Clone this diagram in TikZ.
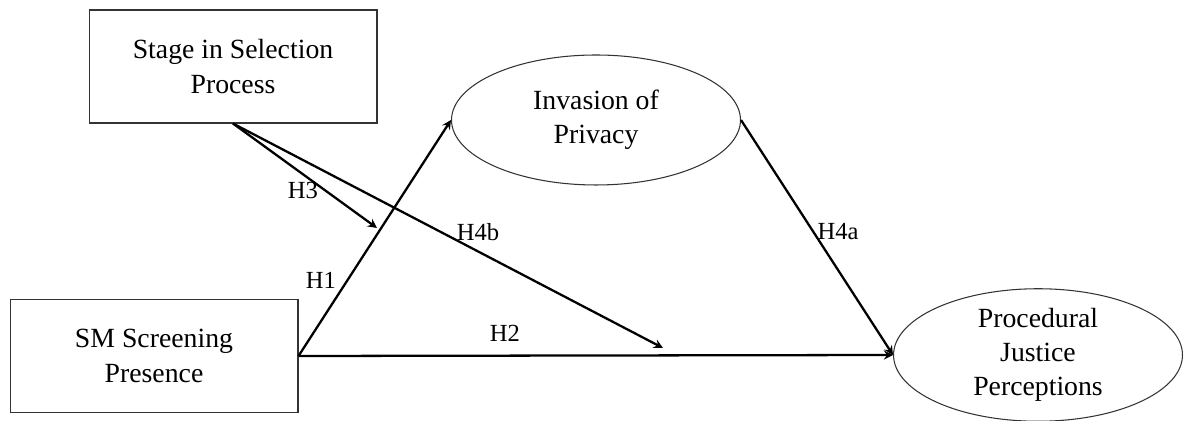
\documentclass[tikz,border=0pt]{standalone}
\usepackage{fontspec}
\setmainfont{Liberation Serif}
\usetikzlibrary{shapes.geometric}
\tikzset{
	varbox/.style={draw=black!80,line width=0.6pt,rectangle,minimum width=5.76cm,minimum height=2.26cm,align=center,inner sep=0pt,font=\fontsize{15.8}{19.5}\selectfont},
	varoval/.style={draw=black!80,line width=0.6pt,ellipse,minimum width=5.78cm,minimum height=2.6cm,align=center,inner sep=0pt,font=\fontsize{15.8}{19.5}\selectfont},
	hyparrow/.style={->,line width=1.3pt},
	hyplabel/.style={inner sep=0pt,font=\fontsize{14}{16}\selectfont}
}
\begin{document}
\begin{tikzpicture}[x=0.02cm,y=-0.02cm,>=stealth]
			\useasboundingbox (0,0) rectangle (1192,421);
			\node[varbox] (stage) at (233,66.5) {Stage in Selection\\Process};
			\node[varbox] (sm) at (154,356) {SM Screening\\Presence};
			\node[varoval] (inv) at (596,120) {Invasion of\\Privacy};
			\node[varoval] (pj) at (1038,355) {Procedural\\Justice\\Perceptions};
			\coordinate (h3end) at (377,228);
			\coordinate (h4bend) at (663,348);
			\draw[hyparrow] (sm.east) -- (inv.west);
			\draw[hyparrow] (sm.east) -- (pj.west);
			\draw[hyparrow] (inv.east) -- (pj.west);
			\draw[hyparrow] (stage.south) -- (h3end);
			\draw[hyparrow] (stage.south) -- (h4bend);
			\node[hyplabel] (h1) at (321,280) {H1};
			\node[hyplabel] (h2) at (505,333) {H2};
			\node[hyplabel] (h3) at (303,190) {H3};
			\node[hyplabel] (h4a) at (838,232) {H4a};
			\node[hyplabel] (h4b) at (478,232) {H4b};
	\end{tikzpicture}
\end{document}
